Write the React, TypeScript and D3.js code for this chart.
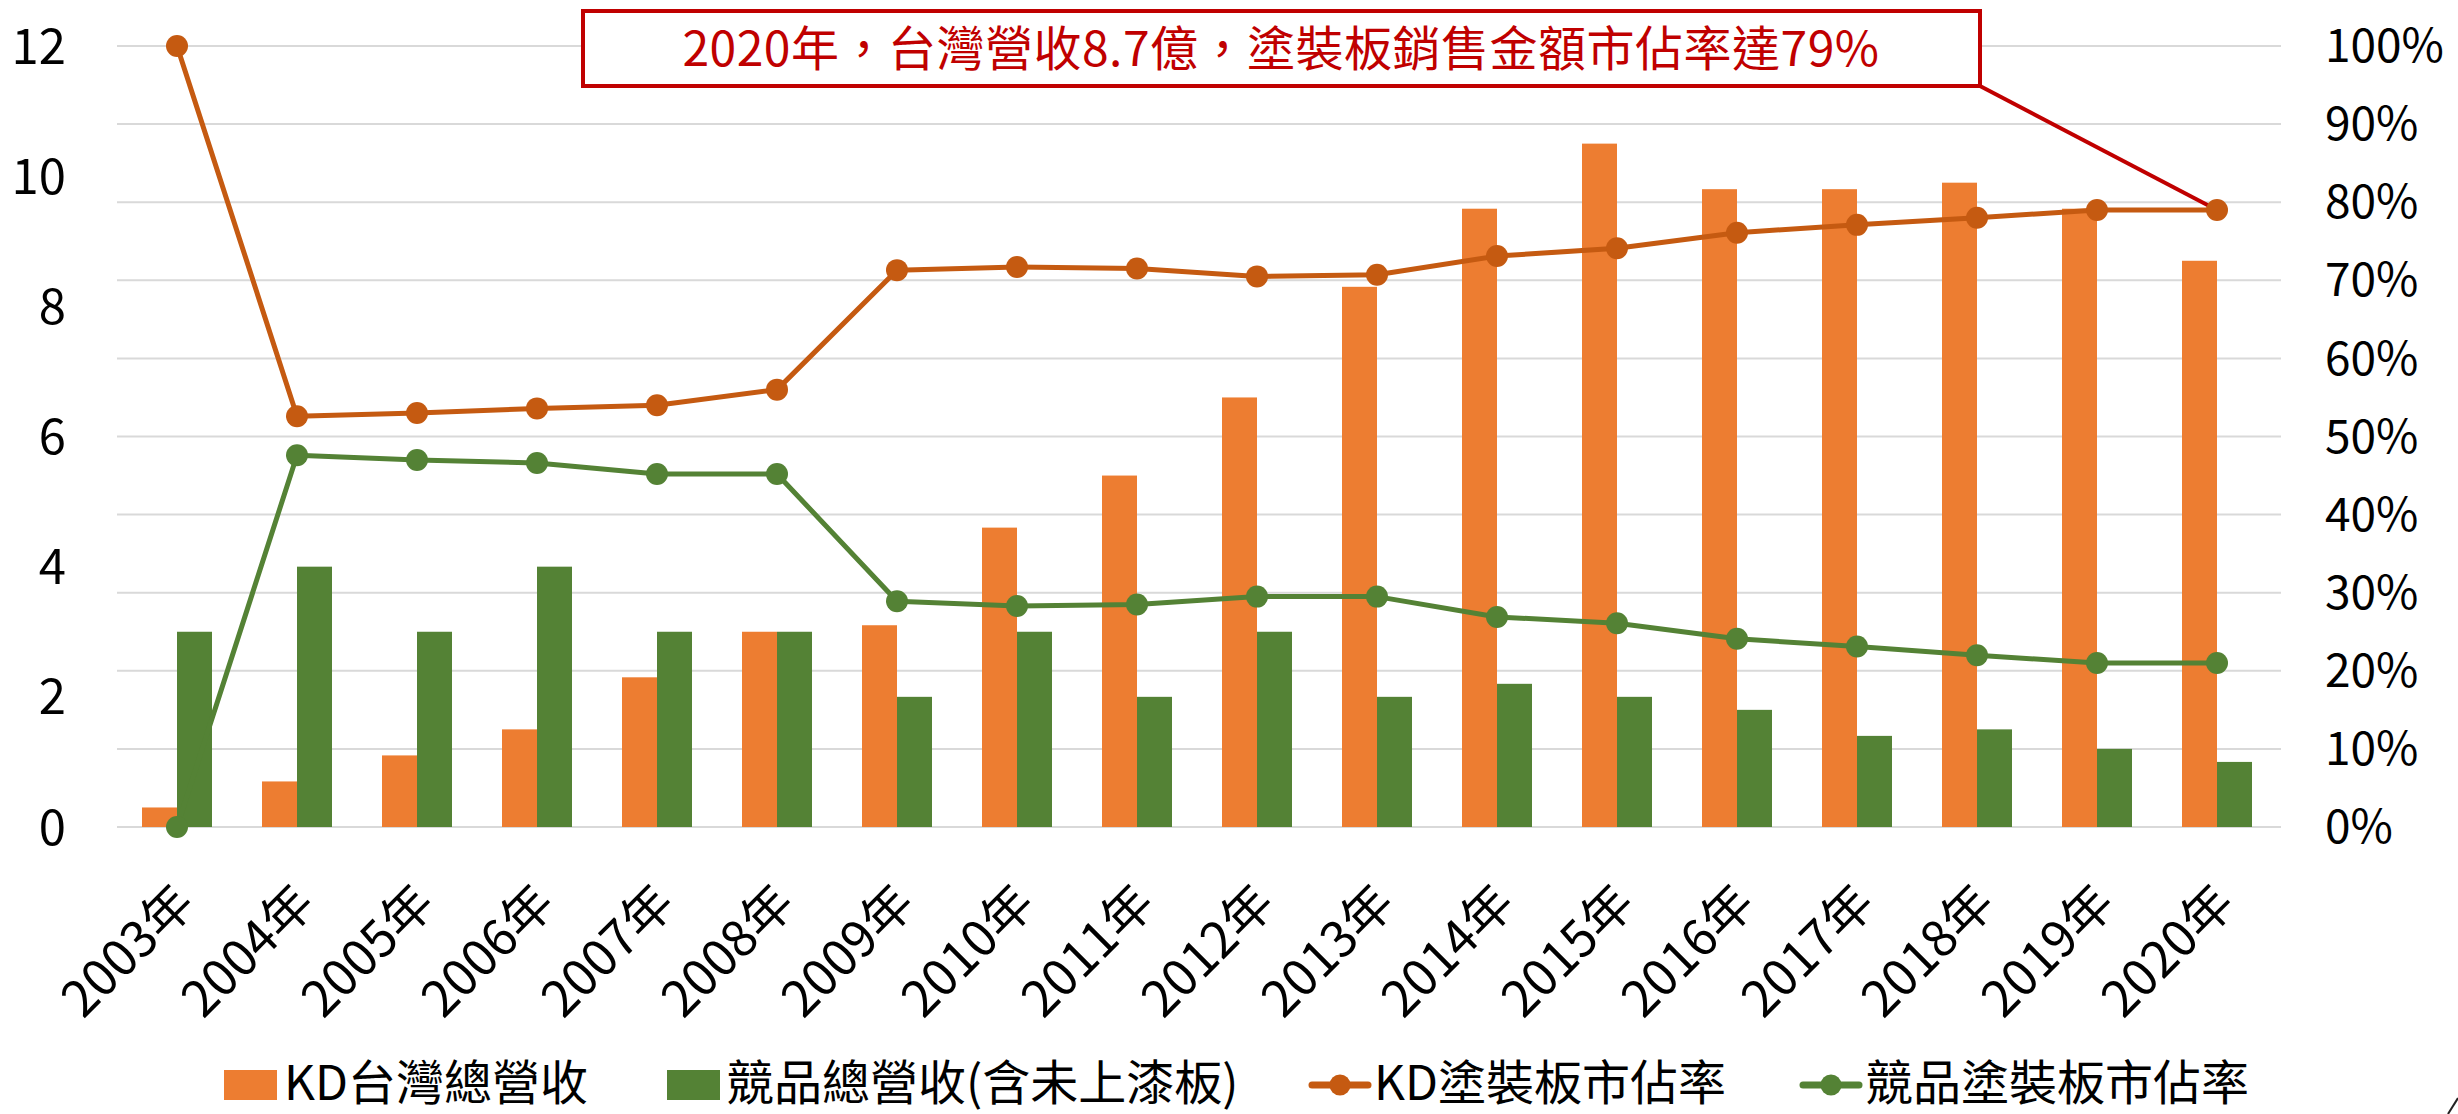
import React, { useEffect, useRef } from "react";
import * as d3 from "d3";

// values
const years = [
  "2003年", "2004年", "2005年", "2006年", "2007年", "2008年", "2009年", "2010年", "2011年",
  "2012年", "2013年", "2014年", "2015年", "2016年", "2017年", "2018年", "2019年", "2020年",
];
const kdRevenue = [0.3, 0.7, 1.1, 1.5, 2.3, 3.0, 3.1, 4.6, 5.4, 6.6, 8.3, 9.5, 10.5, 9.8, 9.8, 9.9, 9.5, 8.7];
const rivalRevenue = [3.0, 4.0, 3.0, 4.0, 3.0, 3.0, 2.0, 3.0, 2.0, 3.0, 2.0, 2.2, 2.0, 1.8, 1.4, 1.5, 1.2, 1.0];
const kdShare = [1.0, 0.526, 0.53, 0.536, 0.54, 0.56, 0.713, 0.717, 0.715, 0.705, 0.707, 0.731, 0.741, 0.761, 0.771, 0.78, 0.79, 0.79];
const rivalShare = [0, 0.476, 0.47, 0.466, 0.452, 0.452, 0.289, 0.283, 0.285, 0.295, 0.295, 0.269, 0.261, 0.241, 0.231, 0.22, 0.21, 0.21];
const leftTicks = [0, 2, 4, 6, 8, 10, 12];
const rightTicks = [0, 0.1, 0.2, 0.3, 0.4, 0.5, 0.6, 0.7, 0.8, 0.9, 1.0];
const seriesNames = ["KD台灣總營收", "競品總營收(含未上漆板)", "KD塗裝板市佔率", "競品塗裝板市佔率"];
const callout = "2020年，台灣營收8.7億，塗裝板銷售金額市佔率達79%";

const ORANGE = "#ED7D31";
const DARK_ORANGE = "#C55A11";
const GREEN = "#548235";
const RED = "#C00000";
const FONT = "'Noto Sans CJK TC', 'Noto Sans', sans-serif";

function App() {
  const ref = useRef<SVGSVGElement>(null);

  useEffect(() => {
    const width = 2458;
    const height = 1114;
    const svg = d3.select(ref.current);
    svg.selectAll("*").remove();

    const x = d3.scaleBand().domain(years).range([117, 2277]);
    const yLeft = d3.scaleLinear().domain([0, 12]).range([827, 46]);
    const yRight = d3.scaleLinear().domain([0, 1]).range([827, 46]);
    const cx = (i: number) => (x(years[i]) as number) + x.bandwidth() / 2;
    const barW = 35;

    // gridlines follow the right axis
    svg
      .append("g")
      .selectAll("line")
      .data(rightTicks)
      .join("line")
      .attr("x1", 117)
      .attr("x2", 2281)
      .attr("y1", (d) => yRight(d))
      .attr("y2", (d) => yRight(d))
      .attr("stroke", "#D9D9D9")
      .attr("stroke-width", 2);

    // left axis labels
    svg
      .append("g")
      .selectAll("text")
      .data(leftTicks)
      .join("text")
      .attr("x", 66)
      .attr("y", (d) => yLeft(d))
      .attr("dy", "0.36em")
      .attr("text-anchor", "end")
      .attr("font-size", 49)
      .attr("font-family", FONT)
      .text((d) => d);

    // right axis labels
    svg
      .append("g")
      .selectAll("text")
      .data(rightTicks)
      .join("text")
      .attr("x", 2325)
      .attr("y", (d) => yRight(d))
      .attr("dy", "0.35em")
      .attr("font-size", 46)
      .attr("font-family", FONT)
      .text((d) => d3.format(".0%")(d));

    // bars
    svg
      .append("g")
      .selectAll("rect")
      .data(kdRevenue)
      .join("rect")
      .attr("x", (d, i) => cx(i) - barW)
      .attr("width", barW)
      .attr("y", (d) => yLeft(d))
      .attr("height", (d) => yLeft(0) - yLeft(d))
      .attr("fill", ORANGE);
    svg
      .append("g")
      .selectAll("rect")
      .data(rivalRevenue)
      .join("rect")
      .attr("x", (d, i) => cx(i))
      .attr("width", barW)
      .attr("y", (d) => yLeft(d))
      .attr("height", (d) => yLeft(0) - yLeft(d))
      .attr("fill", GREEN);

    // x labels, rotated
    svg
      .append("g")
      .selectAll("text")
      .data(years)
      .join("text")
      .attr("transform", (d, i) => `translate(${cx(i) + 20},906) rotate(-45)`)
      .attr("text-anchor", "end")
      .attr("font-size", 50)
      .attr("font-family", FONT)
      .text((d) => d);

    // callout box + connector
    const last = years.length - 1;
    svg
      .append("line")
      .attr("x1", 1980)
      .attr("y1", 86)
      .attr("x2", cx(last))
      .attr("y2", yRight(kdShare[last]))
      .attr("stroke", RED)
      .attr("stroke-width", 4);
    svg
      .append("rect")
      .attr("x", 583)
      .attr("y", 11)
      .attr("width", 1397)
      .attr("height", 75)
      .attr("fill", "white")
      .attr("stroke", RED)
      .attr("stroke-width", 4);
    svg
      .append("text")
      .attr("x", 1281)
      .attr("y", 49)
      .attr("dy", "0.35em")
      .attr("text-anchor", "middle")
      .attr("font-size", 48)
      .attr("letter-spacing", 0.5)
      .attr("font-family", FONT)
      .attr("fill", RED)
      .text(callout);

    // lines with markers
    const drawLine = (data: number[], color: string) => {
      const line = d3
        .line<number>()
        .x((d, i) => cx(i))
        .y((d) => yRight(d));
      svg
        .append("path")
        .datum(data)
        .attr("d", line)
        .attr("fill", "none")
        .attr("stroke", color)
        .attr("stroke-width", 5)
        .attr("stroke-linejoin", "round");
      svg
        .append("g")
        .selectAll("circle")
        .data(data)
        .join("circle")
        .attr("cx", (d, i) => cx(i))
        .attr("cy", (d) => yRight(d))
        .attr("r", 11)
        .attr("fill", color);
    };
    drawLine(kdShare, DARK_ORANGE);
    drawLine(rivalShare, GREEN);

    // legend
    const legend = svg.append("g").attr("font-size", 48).attr("font-family", FONT);
    const ly = 1085;
    const textDy = "0.32em";
    legend.append("rect").attr("x", 224).attr("y", ly - 15).attr("width", 53).attr("height", 30).attr("fill", ORANGE);
    legend.append("text").attr("x", 284).attr("y", ly).attr("dy", textDy).text(seriesNames[0]);
    legend.append("rect").attr("x", 667).attr("y", ly - 15).attr("width", 53).attr("height", 30).attr("fill", GREEN);
    legend.append("text").attr("x", 726).attr("y", ly).attr("dy", textDy).text(seriesNames[1]);
    const lineKey = (x0: number, color: string, label: string) => {
      legend.append("line").attr("x1", x0).attr("x2", x0 + 56).attr("y1", ly).attr("y2", ly)
        .attr("stroke", color).attr("stroke-width", 7).attr("stroke-linecap", "round");
      legend.append("circle").attr("cx", x0 + 28).attr("cy", ly).attr("r", 10.5).attr("fill", color);
      legend.append("text").attr("x", x0 + 62).attr("y", ly).attr("dy", textDy).text(label);
    };
    lineKey(1312, DARK_ORANGE, seriesNames[2]);
    lineKey(1803, GREEN, seriesNames[3]);

    // small stroke in the bottom-right corner of the original
    svg.append("line").attr("x1", 2448).attr("y1", height).attr("x2", 2458).attr("y2", height - 16)
      .attr("stroke", "#222").attr("stroke-width", 2);

    svg.attr("width", width).attr("height", height);
  }, []);

  return (
    <svg
      ref={ref}
      width={2458}
      height={1114}
      style={{ position: "absolute", left: 0, top: 0, background: "white" }}
    />
  );
}

export default App;
